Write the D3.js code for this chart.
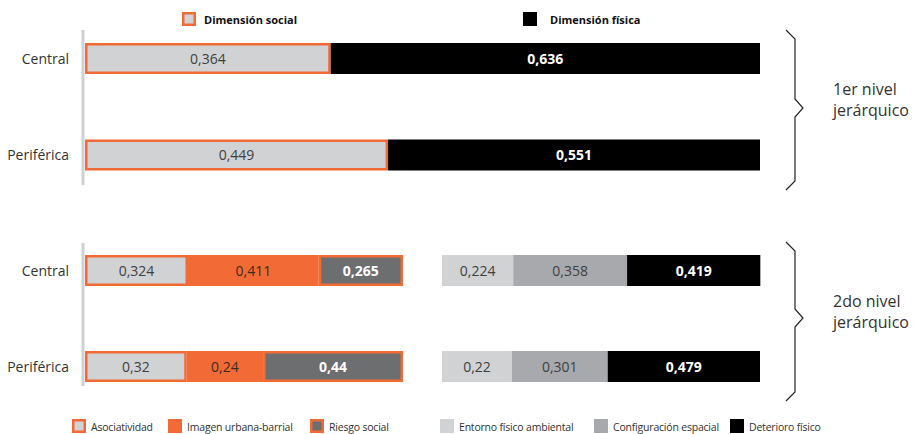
<!DOCTYPE html>
<html><head><meta charset="utf-8">
<script src="https://cdn.jsdelivr.net/npm/d3@7"></script>
<style>
html,body{margin:0;padding:0;background:#fff;}
svg{display:block;font-family:"Open Sans",sans-serif;}
</style></head>
<body><svg id="c" width="913" height="434"></svg>
<script>
const categories = ["Central", "Periférica"];
const dimSocial = [0.364, 0.449];
const dimFisica = [0.636, 0.551];
const asociatividad = [0.324, 0.32];
const imagenUrbana = [0.411, 0.24];
const riesgoSocial = [0.265, 0.44];
const entornoFisico = [0.224, 0.22];
const configuracionEspacial = [0.358, 0.301];
const deterioroFisico = [0.419, 0.479];
const levelLabels = [["1er nivel", "jerárquico"], ["2do nivel", "jerárquico"]];
const topLegend = ["Dimensión social", "Dimensión física"];
const bottomLegend = ["Asociatividad", "Imagen urbana-barrial", "Riesgo social", "Entorno físico ambiental", "Configuración espacial", "Deterioro físico"];

const C = {light:"#d1d2d4", orange:"#f26a35", dark:"#6d6e70", mid:"#a7a9ac", black:"#000000", text:"#333333"};
const svg = d3.select("#c");
const fmt = v => String(v).replace(".", ",");
const barH = 31;

const yTop = d3.scalePoint().domain(categories).range([58.5, 155]);
const yBot = d3.scalePoint().domain(categories).range([270.5, 366.5]);
const xTop = d3.scaleLinear().domain([0, 1]).range([85, 760]);
const xSoc = d3.scaleLinear().domain([0, 1]).range([85, 403]);
const xFis = d3.scaleLinear().domain([0, 1]).range([442, 760]);

// axis lines
svg.append("line").attr("x1",83).attr("x2",83).attr("y1",30).attr("y2",185).attr("stroke","#d0d0d0").attr("stroke-width",3);
svg.append("line").attr("x1",83).attr("x2",83).attr("y1",243).attr("y2",386).attr("stroke","#d0d0d0").attr("stroke-width",3);

function drawStack(series, x, y, styles) {
  categories.forEach((cat, i) => {
    let acc = 0;
    series.forEach((s, k) => {
      const v = s[i];
      const x0 = x(acc), x1 = x(acc + v);
      acc += v;
      const st = styles[k];
      const yc = y(cat);
      const r = svg.append("rect");
      if (st.stroke) {
        r.attr("x", x0 + 1.25).attr("y", yc - barH/2 + 1.25).attr("width", x1 - x0 - 2.5).attr("height", barH - 2.5)
         .attr("fill", st.fill).attr("stroke", st.stroke).attr("stroke-width", 2.5);
      } else {
        r.attr("x", x0).attr("y", yc - barH/2).attr("width", x1 - x0).attr("height", barH).attr("fill", st.fill);
      }
      svg.append("text").attr("x", (x0 + x1)/2).attr("y", yc + 5)
        .attr("text-anchor","middle").attr("font-size", 14)
        .attr("font-weight", st.bold ? "bold" : "normal")
        .attr("fill", st.color).text(fmt(v));
    });
  });
}

drawStack([dimSocial, dimFisica], xTop, yTop, [
  {fill:C.light, stroke:C.orange, color:"#404040"},
  {fill:C.black, color:"#fff", bold:true}
]);
drawStack([asociatividad, imagenUrbana, riesgoSocial], xSoc, yBot, [
  {fill:C.light, stroke:C.orange, color:"#404040"},
  {fill:C.orange, stroke:C.orange, color:"#3a2a20"},
  {fill:C.dark, stroke:C.orange, color:"#fff", bold:true}
]);
drawStack([entornoFisico, configuracionEspacial, deterioroFisico], xFis, yBot, [
  {fill:C.light, color:"#404040"},
  {fill:C.mid, color:"#404040"},
  {fill:C.black, color:"#fff", bold:true}
]);

// category labels
[yTop, yBot].forEach(y => {
  categories.forEach(cat => {
    svg.append("text").attr("x", 69).attr("y", y(cat) + 5).attr("text-anchor","end")
      .attr("font-size", 14).attr("fill", C.text).text(cat);
  });
});

// braces
function brace(top, mid, bot) {
  const xa = 786, xb = 795, xc = 803;
  const p = `M${xa},${top} L${xb},${top+9} L${xb},${mid-9} L${xc},${mid} L${xb},${mid+9} L${xb},${bot-9} L${xa},${bot}`;
  svg.append("path").attr("d", p).attr("fill","none").attr("stroke","#222").attr("stroke-width",1.2);
}
brace(30, 108, 190);
brace(242, 318, 401);
[[95, levelLabels[0]], [307, levelLabels[1]]].forEach(([yy, lines]) => {
  lines.forEach((t, j) => {
    svg.append("text").attr("x", 833).attr("y", yy + j*21).attr("font-size", 16).attr("fill", C.text).text(t);
  });
});

// top legend
svg.append("rect").attr("x",183.25).attr("y",13.25).attr("width",11.5).attr("height",11.5).attr("fill",C.light).attr("stroke",C.orange).attr("stroke-width",2.5);
svg.append("text").attr("x",204).attr("y",24).attr("font-size",11).attr("font-weight","bold").attr("fill","#111").text(topLegend[0]);
svg.append("rect").attr("x",523).attr("y",12).attr("width",14).attr("height",14).attr("fill",C.black);
svg.append("text").attr("x",550).attr("y",24).attr("font-size",11).attr("font-weight","bold").attr("fill","#111").text(topLegend[1]);

// bottom legend
const bl = [
  {x:72, fill:C.light, stroke:C.orange},
  {x:168, fill:C.orange},
  {x:310, fill:C.dark, stroke:C.orange},
  {x:440, fill:C.light},
  {x:594, fill:C.mid},
  {x:730, fill:C.black}
];
bl.forEach((b, i) => {
  const r = svg.append("rect");
  if (b.stroke) r.attr("x", b.x + 1.25).attr("y", 420.25).attr("width", 11.5).attr("height", 11.5).attr("fill", b.fill).attr("stroke", b.stroke).attr("stroke-width", 2.5);
  else r.attr("x", b.x).attr("y", 419).attr("width", 14).attr("height", 14).attr("fill", b.fill);
  svg.append("text").attr("x", b.x + 19).attr("y", 431).attr("font-size", 10.5).attr("letter-spacing", "-0.2").attr("fill", C.text).text(bottomLegend[i]);
});
</script></body></html>
